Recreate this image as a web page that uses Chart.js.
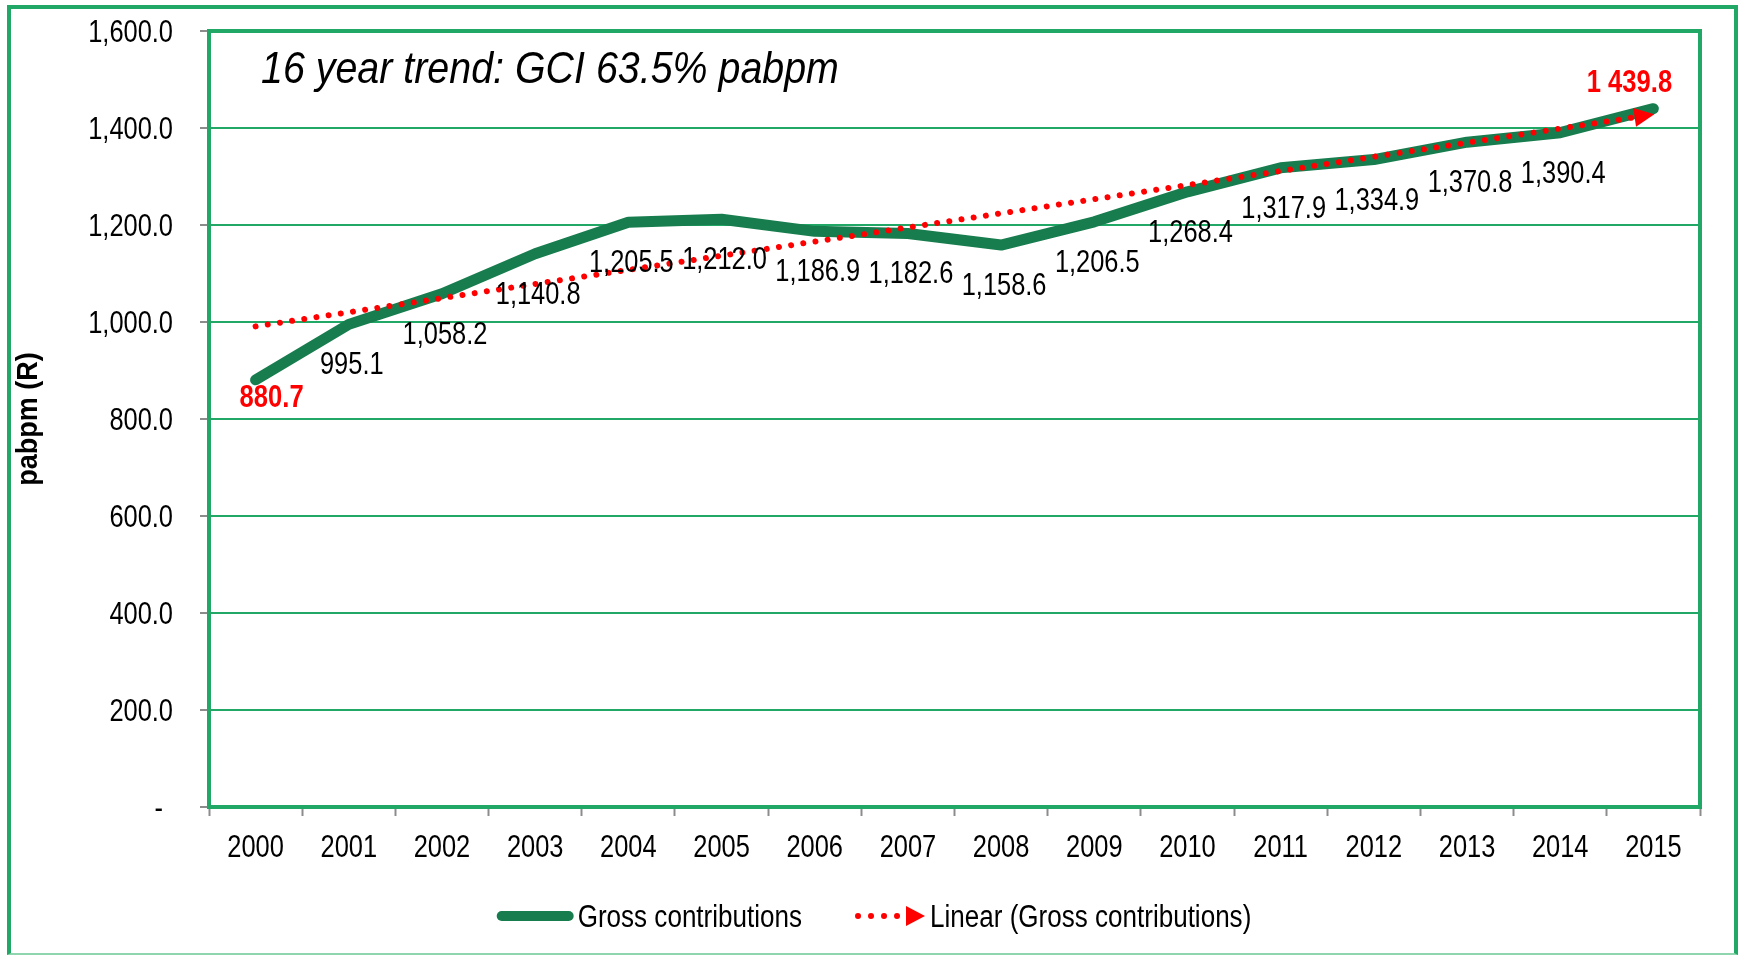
<!DOCTYPE html>
<html>
<head>
<meta charset="utf-8">
<script src="https://cdn.jsdelivr.net/npm/chart.js@4.4.1/dist/chart.umd.min.js"></script>
<style>
  html, body { margin: 0; padding: 0; background: #fff; }
  #wrap { position: relative; width: 1741px; height: 955px; }
  #frame { position: absolute; left: 7px; top: 5px; width: 1731px; height: 950px; box-sizing: border-box;
           border: 4px solid #22a866; border-bottom: 2px solid #8fd6ae; pointer-events: none; }
</style>
</head>
<body>
<div id="wrap">
  <canvas id="chart" width="1741" height="955"></canvas>
  <div id="frame"></div>
</div>
<script>
// data
const years = ['2000', '2001', '2002', '2003', '2004', '2005', '2006', '2007',
               '2008', '2009', '2010', '2011', '2012', '2013', '2014', '2015'];
const gross = [880.7, 995.1, 1058.2, 1140.8, 1205.5, 1212.0, 1186.9, 1182.6,
               1158.6, 1206.5, 1268.4, 1317.9, 1334.9, 1370.8, 1390.4, 1439.8];
const trendEnds = [991, 1428]; // linear trend at 2000 and 2015
const yMin = 0, yMax = 1600, yStep = 200;
const chartTitle = '16 year trend: GCI 63.5% pabpm';
const yTitle = 'pabpm (R)';

// no narrow font installed, so Liberation Sans gets squeezed sideways
const FONT = "'Liberation Sans', Arial, sans-serif";
const GRID_GREEN = '#22a866';
const LINE_GREEN = '#187d4e';
const RED = '#ff0000';

const trend = years.map((_, i) => i === 0 ? trendEnds[0] : (i === years.length - 1 ? trendEnds[1] : null));

function fmt(v) {
  return v.toLocaleString('en-US', { minimumFractionDigits: 1, maximumFractionDigits: 1 });
}

function text(ctx, str, x, y, font, color, align, sx, rot) {
  ctx.save();
  ctx.translate(x, y);
  if (rot) ctx.rotate(rot);
  ctx.scale(sx, 1);
  ctx.font = font;
  ctx.fillStyle = color;
  ctx.textAlign = align;
  ctx.textBaseline = 'alphabetic';
  ctx.fillText(str, 0, 0);
  ctx.restore();
  ctx.font = font;
  return ctx.measureText(str).width * sx;
}

const extras = {
  id: 'extras',
  beforeDatasetsDraw(chart) {
    const { ctx, chartArea: a } = chart;
    ctx.save();
    ctx.strokeStyle = GRID_GREEN;
    ctx.lineWidth = 4;
    ctx.strokeRect(a.left, a.top, a.right - a.left, a.bottom - a.top);
    ctx.restore();
    text(ctx, chartTitle, a.left + 52, a.top + 52, 'italic 44px ' + FONT, '#000', 'left', 0.895);
  },
  afterDatasetsDraw(chart) {
    const { ctx } = chart;
    // arrow head on the trend line
    const tm = chart.getDatasetMeta(1).data;
    const p0 = tm[0], p1 = tm[tm.length - 1];
    const ang = Math.atan2(p1.y - p0.y, p1.x - p0.x);
    ctx.save();
    ctx.translate(p1.x, p1.y);
    ctx.rotate(ang);
    ctx.fillStyle = RED;
    ctx.beginPath();
    ctx.moveTo(1, 0);
    ctx.lineTo(-19, -9.5);
    ctx.lineTo(-19, 9.5);
    ctx.closePath();
    ctx.fill();
    ctx.restore();

    // data labels
    const gm = chart.getDatasetMeta(0).data;
    gm.forEach((pt, i) => {
      const v = gross[i];
      if (i === 0) {
        text(ctx, fmt(v), pt.x + 16, pt.y + 27, 'bold 32px ' + FONT, RED, 'center', 0.8);
      } else if (i === gm.length - 1) {
        text(ctx, fmt(v).replace(',', ' '), pt.x - 24, pt.y - 17, 'bold 32px ' + FONT, RED, 'center', 0.8);
      } else {
        text(ctx, fmt(v), pt.x + 3, pt.y + 50, '31px ' + FONT, '#000', 'center', 0.82);
      }
    });
  },
  afterDraw(chart) {
    const { ctx, chartArea: a } = chart;
    const xs = chart.scales.x, ys = chart.scales.y;
    // axis labels
    ys.ticks.forEach(t => {
      const y = ys.getPixelForValue(t.value);
      if (t.value === 0) text(ctx, '-', a.left - 46, y + 11, '31px ' + FONT, '#000', 'right', 0.82);
      else text(ctx, fmt(t.value), a.left - 36, y + 11, '31px ' + FONT, '#000', 'right', 0.82);
    });
    xs.ticks.forEach((t, i) => {
      text(ctx, years[i], xs.getPixelForTick(i), 857, '31px ' + FONT, '#000', 'center', 0.82);
    });
    // y title, rotated
    text(ctx, yTitle, 37, (a.top + a.bottom) / 2, 'bold 30px ' + FONT, '#000', 'center', 0.9, -Math.PI / 2);

    // legend
    const t1 = chart.data.datasets[0].label, t2 = chart.data.datasets[1].label;
    ctx.font = '31px ' + FONT;
    const w1 = ctx.measureText(t1).width * 0.84, w2 = ctx.measureText(t2).width * 0.84;
    const total = 74 + 5 + w1 + 53 + 70 + 5 + w2;
    let x = 873 - total / 2;
    const y = 916;
    ctx.save();
    ctx.strokeStyle = LINE_GREEN;
    ctx.lineWidth = 10;
    ctx.lineCap = 'round';
    ctx.beginPath();
    ctx.moveTo(x + 5, y);
    ctx.lineTo(x + 72, y);
    ctx.stroke();
    ctx.restore();
    x += 81;
    text(ctx, t1, x, y + 11, '31px ' + FONT, '#000', 'left', 0.84);
    x += w1 + 53;
    ctx.save();
    ctx.fillStyle = RED;
    for (let k = 0; k < 4; k++) {
      ctx.beginPath();
      ctx.arc(x + 3 + k * 13, y, 3, 0, Math.PI * 2);
      ctx.fill();
    }
    ctx.beginPath();
    ctx.moveTo(x + 51, y - 10);
    ctx.lineTo(x + 70, y);
    ctx.lineTo(x + 51, y + 10);
    ctx.closePath();
    ctx.fill();
    ctx.restore();
    x += 75;
    text(ctx, t2, x, y + 11, '31px ' + FONT, '#000', 'left', 0.84);
  }
};

const ctx = document.getElementById('chart').getContext('2d');
new Chart(ctx, {
  type: 'line',
  data: {
    labels: years,
    datasets: [
      {
        label: 'Gross contributions',
        data: gross,
        borderColor: LINE_GREEN,
        borderWidth: 11,
        borderCapStyle: 'round',
        borderJoinStyle: 'round',
        pointRadius: 0,
        tension: 0,
        order: 1
      },
      {
        label: 'Linear (Gross contributions)',
        data: trend,
        borderColor: RED,
        borderWidth: 6,
        borderDash: [0.01, 12.3],
        borderCapStyle: 'round',
        pointRadius: 0,
        spanGaps: true,
        order: 0
      }
    ]
  },
  options: {
    responsive: false,
    animation: false,
    layout: { padding: { left: 14, right: 41, top: 31, bottom: 88 } },
    plugins: {
      legend: { display: false },
      tooltip: { enabled: false }
    },
    scales: {
      x: {
        offset: true,
        border: { display: false },
        grid: { offset: true, drawOnChartArea: false, drawTicks: true, tickLength: 9, tickColor: '#8c8c8c', tickWidth: 2 },
        ticks: { display: false, autoSkip: false, maxRotation: 0 },
        afterFit(scale) { scale.height = 60; }
      },
      y: {
        min: yMin,
        max: yMax,
        border: { display: false },
        grid: { color: GRID_GREEN, lineWidth: 2, drawTicks: true, tickLength: 9, tickColor: '#8c8c8c', tickWidth: 2 },
        ticks: { display: false, stepSize: yStep },
        afterFit(scale) { scale.width = 195; }
      }
    }
  },
  plugins: [extras]
});
</script>
</body>
</html>
